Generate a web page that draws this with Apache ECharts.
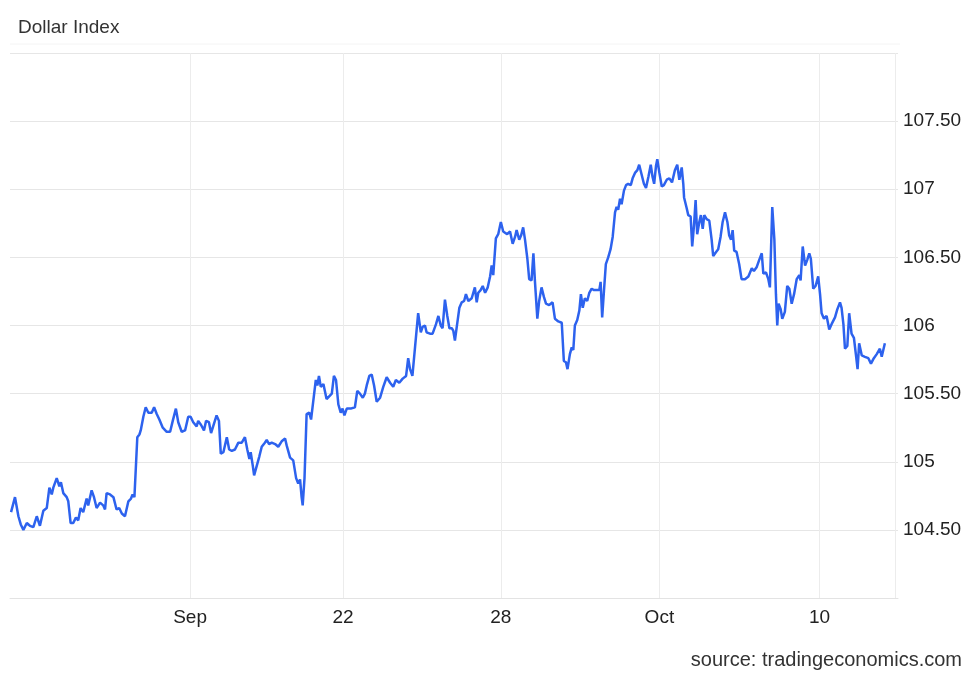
<!DOCTYPE html>
<html>
<head>
<meta charset="utf-8">
<script src="https://cdn.jsdelivr.net/npm/echarts@6/dist/echarts.min.js"></script>
<style>
html,body{margin:0;padding:0;background:#fff;}
#chart{width:975px;height:676px;}
</style>
</head>
<body>
<div id="chart"></div>
<script>
// Time offsets (days from left edge of the window) and index values
const dayOffsets = [
0.04,0.19,0.32,0.41,0.51,0.64,0.76,0.89,1.02,1.14,1.27,1.40,1.50,1.59,1.65,1.78,1.88,1.94,2.03,2.16,
2.22,2.31,2.41,2.51,2.60,2.69,2.79,2.92,2.98,3.11,3.20,3.30,3.43,3.55,3.62,3.68,3.81,3.94,4.06,4.16,
4.26,4.38,4.51,4.61,4.67,4.74,4.80,4.85,4.93,4.98,5.08,5.17,5.27,5.40,5.49,5.59,5.69,5.82,5.97,6.10,
6.20,6.32,6.41,6.54,6.67,6.79,6.88,6.98,7.11,7.17,7.28,7.39,7.47,7.58,7.66,7.74,7.87,7.96,8.03,8.13,
8.26,8.35,8.45,8.57,8.70,8.83,8.95,9.04,9.12,9.17,9.25,9.30,9.40,9.50,9.59,9.71,9.78,9.87,9.97,10.10,
10.22,10.35,10.48,10.54,10.67,10.79,10.90,10.98,11.05,11.11,11.15,11.22,11.30,11.40,11.47,11.55,11.65,11.71,11.77,11.84,
11.94,12.06,12.16,12.26,12.34,12.42,12.51,12.60,12.67,12.74,12.83,12.98,13.14,13.23,13.33,13.44,13.52,13.59,13.69,13.78,
13.87,13.97,14.10,14.22,14.35,14.48,14.60,14.70,14.83,14.96,15.09,15.17,15.24,15.33,15.43,15.55,15.65,15.72,15.81,15.87,
16.00,16.10,16.23,16.32,16.41,16.48,16.57,16.66,16.74,16.83,16.89,16.95,17.02,17.12,17.21,17.30,17.37,17.46,17.59,17.71,
17.78,17.84,17.93,18.01,18.10,18.20,18.29,18.35,18.41,18.51,18.60,18.70,18.79,18.86,18.94,19.05,19.15,19.24,19.30,19.40,
19.47,19.55,19.62,19.71,19.78,19.87,19.94,20.00,20.09,20.16,20.25,20.34,20.42,20.54,20.67,20.76,20.89,21.02,21.10,21.18,
21.24,21.33,21.40,21.46,21.52,21.61,21.69,21.75,21.82,21.90,21.99,22.07,22.16,22.25,22.35,22.45,22.50,22.56,22.63,22.70,
22.79,22.88,22.96,23.05,23.11,23.17,23.24,23.30,23.39,23.47,23.55,23.65,23.72,23.81,23.90,23.97,24.06,24.15,24.23,24.32,
24.41,24.48,24.54,24.61,24.66,24.74,24.83,24.91,25.02,25.12,25.22,25.33,25.42,25.50,25.59,25.65,25.68,25.78,25.84,25.93,
25.99,26.06,26.12,26.18,26.26,26.32,26.39,26.45,26.54,26.64,26.73,26.79,26.90,26.98,27.07,27.15,27.24,27.33,27.40,27.47,
27.53,27.59,27.68,27.78,27.87,28.00,28.13,28.26,28.34,28.45,28.54,28.64,28.70,28.80,28.89,28.95,29.04,29.12,29.18,29.23,
29.28,29.36,29.42,29.52,29.61,29.69,29.78,29.87,29.97,30.07,30.12,30.20,30.29,30.37,30.45,30.51,30.60,30.69,30.79,30.86,
30.92,31.01,31.11,31.21,31.30,31.43,31.52,31.62,31.68,31.75,31.81,31.90,31.97,32.06,32.15,32.23,32.29,32.35,32.45,32.57,
32.70,32.80,32.91,33.02,33.14,33.21,33.33
];
const indexValues = [
104.63,104.74,104.60,104.54,104.50,104.55,104.53,104.52,104.60,104.53,104.64,104.66,104.81,104.76,104.81,104.88,104.82,104.85,104.77,104.74,
104.71,104.55,104.55,104.59,104.57,104.66,104.63,104.73,104.68,104.79,104.74,104.66,104.70,104.68,104.65,104.77,104.76,104.74,104.65,104.66,
104.62,104.60,104.71,104.73,104.76,104.74,104.98,105.18,105.20,105.23,105.33,105.40,105.36,105.36,105.40,105.35,105.31,105.25,105.22,105.22,
105.30,105.39,105.29,105.22,105.23,105.33,105.33,105.29,105.26,105.30,105.27,105.23,105.30,105.29,105.21,105.26,105.34,105.30,105.06,105.07,
105.18,105.09,105.08,105.09,105.14,105.14,105.18,105.09,105.02,105.07,104.97,104.90,104.97,105.04,105.11,105.14,105.16,105.13,105.14,105.13,
105.11,105.15,105.17,105.12,105.03,105.01,104.88,104.84,104.87,104.74,104.68,104.88,105.35,105.36,105.31,105.44,105.60,105.56,105.63,105.55,
105.57,105.46,105.48,105.50,105.63,105.60,105.42,105.36,105.39,105.34,105.39,105.39,105.40,105.52,105.50,105.47,105.50,105.56,105.63,105.64,
105.56,105.44,105.47,105.55,105.62,105.58,105.55,105.60,105.58,105.61,105.63,105.76,105.68,105.63,105.84,106.09,105.95,105.99,106.00,105.95,
105.94,105.94,106.01,106.07,106.00,105.98,106.19,106.07,105.98,105.98,105.96,105.89,105.99,106.13,106.17,106.18,106.23,106.18,106.20,106.28,
106.17,106.24,106.26,106.29,106.24,106.28,106.36,106.44,106.37,106.64,106.67,106.76,106.69,106.70,106.67,106.69,106.60,106.65,106.70,106.63,
106.66,106.72,106.63,106.49,106.34,106.33,106.53,106.32,106.05,106.18,106.28,106.21,106.16,106.15,106.17,106.05,106.03,106.02,105.74,105.73,
105.68,105.79,105.84,105.82,106.00,106.04,106.11,106.23,106.13,106.20,106.18,106.24,106.27,106.26,106.26,106.26,106.32,106.06,106.26,106.45,
106.50,106.56,106.65,106.83,106.87,106.85,106.93,106.89,106.99,107.03,107.04,107.03,107.08,107.12,107.14,107.18,107.11,107.04,107.01,107.09,
107.18,107.09,107.04,107.17,107.22,107.12,107.02,107.03,107.07,107.08,107.05,107.14,107.18,107.07,107.16,107.04,106.94,106.86,106.81,106.80,
106.58,106.74,106.92,106.67,106.76,106.81,106.71,106.81,106.78,106.77,106.63,106.51,106.54,106.56,106.65,106.76,106.83,106.76,106.66,106.63,
106.70,106.55,106.54,106.45,106.34,106.34,106.36,106.42,106.40,106.43,106.48,106.53,106.38,106.39,106.34,106.28,106.87,106.63,106.23,106.00,
106.16,106.12,106.05,106.10,106.29,106.27,106.16,106.23,106.34,106.37,106.33,106.58,106.44,106.48,106.53,106.49,106.27,106.29,106.36,106.23,
106.09,106.05,106.07,105.97,106.01,106.06,106.12,106.17,106.13,106.01,105.83,105.85,106.09,105.94,105.91,105.78,105.68,105.87,105.78,105.77,
105.76,105.72,105.76,105.79,105.83,105.77,105.87
];
// X-axis tick positions (days) and their labels
const tickDays = [6.86, 12.69, 18.70, 24.74, 30.84];
const tickLabels = ['Sep', '22', '28', 'Oct', '10'];
const lastGridDay = 33.71;
const axisMaxDay = 33.83;
// Y-axis range
const yMin = 104, yMax = 108, yStep = 0.5;

const seriesData = dayOffsets.map((d, i) => [d, indexValues[i]]);
const font = '"Liberation Sans", Arial, Helvetica, sans-serif';

const chart = echarts.init(document.getElementById('chart'), null, {renderer: 'canvas'});
chart.setOption({
  animation: false,
  backgroundColor: '#ffffff',
  title: {
    text: 'Dollar Index',
    left: 13, top: 13,
    textStyle: {fontFamily: font, fontSize: 19, fontWeight: 'normal', color: '#333333'}
  },
  graphic: [{
    type: 'line',
    shape: {x1: 10, y1: 44, x2: 900, y2: 44},
    style: {stroke: '#f4f4f4', lineWidth: 1}
  }, {
    type: 'text',
    right: 13, top: 650,
    style: {text: 'source: tradingeconomics.com', font: '20px ' + font, fill: '#333333'}
  }],
  grid: {left: 10, right: 77, top: 53, bottom: 78, containLabel: false},
  xAxis: {
    type: 'value',
    min: 0, max: axisMaxDay,
    axisLine: {show: true, lineStyle: {color: '#e3e3e3', width: 1}},
    axisTick: {show: false, customValues: tickDays.concat([lastGridDay])},
    axisLabel: {
      customValues: tickDays,
      margin: 10,
      fontFamily: font, fontSize: 19, color: '#222222',
      formatter: function (v) {
        let best = 0;
        for (let i = 1; i < tickDays.length; i++) {
          if (Math.abs(tickDays[i] - v) < Math.abs(tickDays[best] - v)) best = i;
        }
        return tickLabels[best];
      }
    },
    splitLine: {show: true, lineStyle: {color: '#ececec', width: 1}}
  },
  yAxis: {
    type: 'value',
    position: 'right',
    min: yMin, max: yMax, interval: yStep,
    axisLine: {show: false},
    axisTick: {show: false},
    axisLabel: {
      margin: 5,
      fontFamily: font, fontSize: 19, color: '#222222',
      formatter: function (v) {
        if (v <= yMin || v >= yMax) return '';
        return Number.isInteger(v) ? String(v) : v.toFixed(2);
      }
    },
    splitLine: {show: true, lineStyle: {color: '#e6e6e6', width: 1}}
  },
  series: [{
    type: 'line',
    data: seriesData,
    showSymbol: false,
    symbol: 'none',
    smooth: false,
    lineStyle: {color: '#2d62ee', width: 2.5},
    emphasis: {disabled: true}
  }]
});
</script>
</body>
</html>
